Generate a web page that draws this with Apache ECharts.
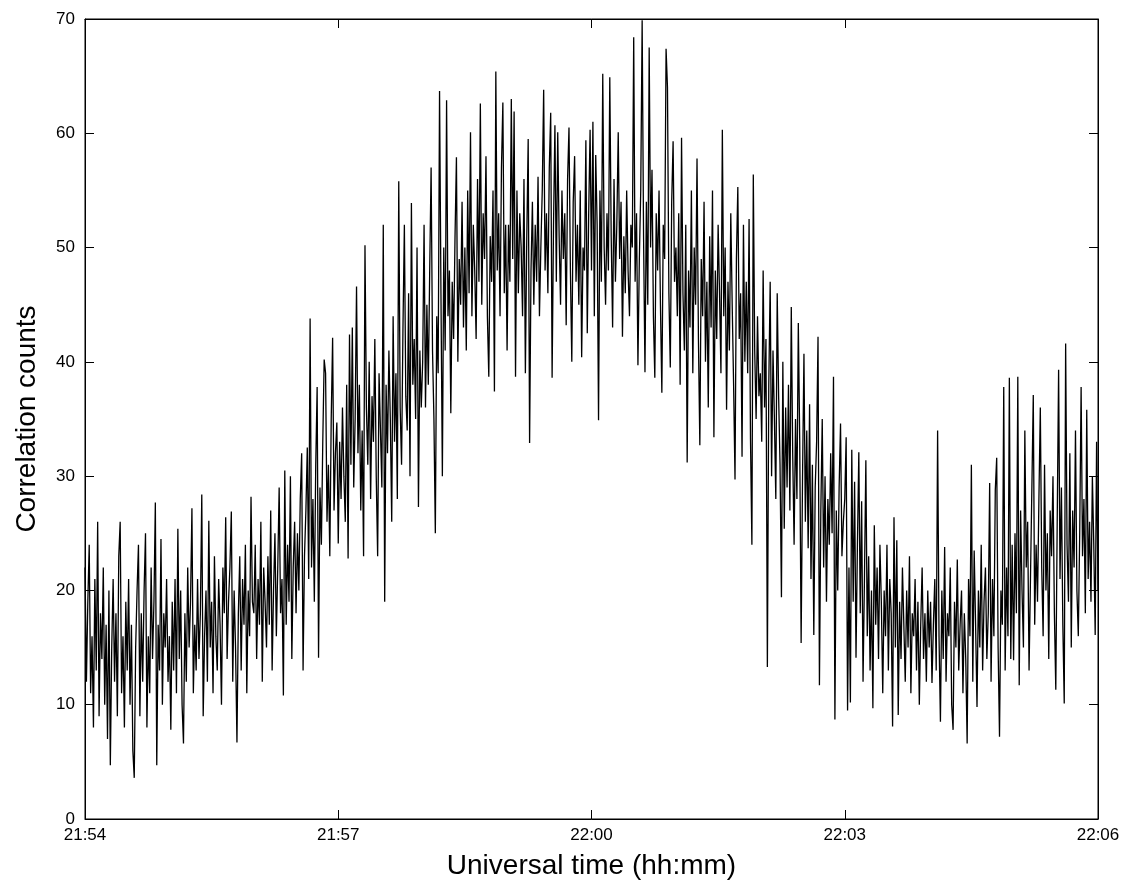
<!DOCTYPE html>
<html>
<head>
<meta charset="utf-8">
<script src="https://cdn.jsdelivr.net/npm/echarts@6/dist/echarts.min.js"></script>
<style>html,body{margin:0;padding:0;background:#fff}#c{width:1131px;height:889px}</style>
</head>
<body>
<div id="c"></div>
<script>
// One sample per second from 21:54:00 to 22:06:00
var tickLabels = ['21:54', '21:57', '22:00', '22:03', '22:06'];
var yTicks = [0, 10, 20, 30, 40, 50, 60, 70];

var counts = [
// 21:54
22,12,19,24,11,16,8,21,13,26,
9,18,14,22,10,17,7,20,4.7,15,
21,12,18,9,23,26,11,16,8,19,
13,21,10,17,6,3.6,15,20,24,9,
18,12,20,25,8,16,11,22,14,19,
27.7,4.7,17,13,24.5,10,18,15,21,12,
// 21:55
16,7.8,19,13,21,11,25.4,14,20,10,
6.6,18,12,22,15,19,27.2,11,17,13,
21,14,18,28.4,9,16,20,12,26.1,15,
19,11,23,16,13,21,17,10,22,18,
26.4,14,19,22,26.9,12,20,15,6.7,18,
23,13,21,17,24,11,20,16,28.2,19,
// 21:56
18,24,14,21,17,26,12,22,19,15,
23,17,27,13,20,25,16,22,29,18,
21,10.8,30.5,17,24,19,30,14,22,26,
18,25,20,28,32,13,23,27,32.5,21,
43.8,22,28,19,31,37.8,14.1,29,24,33,
40.2,39,26,31,23,35,42.1,27,32,34.7,
// 21:57
24.1,33,28,36,30,26,38,22.8,42.4,31,
43,29,35,46.6,32,38,27,34,23,50.2,
36,31,40,28,37,33,42,30,23,39,
34,29,52,19,38,32,41,35,26,44,
33,39,28,55.8,36,31,43,52,37,34,
46,30,53.9,38,42,35,50,27.3,41,36,
// 21:58
40,52,36,45,38,48,57,41,35,25,
44,39,63.7,46,30,50,41,62.9,44,48,
35.5,47,42,51,57.9,40,49,45,54,43,
50,41,55,46,60.1,44,52,48,42,56,
47,62.6,45,53,49,58,44,38.7,51,47,
55,37.4,65.4,48,53,44,57,62.7,46,52,
// 21:59
41,52,47,63,49,61.9,38.7,55,46,53,
50,44,56,39,51,59.5,32.9,48,54,45,
52,47,56.2,44,50,55,63.8,48,53,46,
57,61.8,38.6,52,60.7,47,60.1,51,45,55,
49,53,43.2,56,60.5,48,40,54,58,47,
52,45,55,40.4,50,48,59.4,42.5,53,60.3,
// 22:00
48,61,44,58.1,52,34.9,55,47,65.2,50,
45,53,48,64.9,51,43,56,47,52,60.1,
49,54,42.2,51,46,55,48,44,52,50,
68.4,47,53,39.7,49,55,69.9,51,39.1,54,
45,67.5,50,56.8,44,38.6,53,48,55,45,
37.3,52,49,67.4,64,46,39.5,54,59.3,47,
// 22:01
50,44,53,38,59.6,46,41,52,31.2,48,
43,55,39,50,45,57.8,42,32.7,49,44,
54,40,47,36,51,43,55,33.4,48,42,
52,46,39,60.3,44,50,35.8,47,41,53,
45,38,29.7,49,55.3,42,46,31.7,52,40,
47,39,52.5,33.3,24,56.4,41,35,44,37,
// 22:02
39,33,48,36,42,13.3,38,47,30,41,
35,28,46,37,31,19.4,40,25.4,36,29,
38,27,44.8,32,24,35,28,43.4,33,15.4,
30,40.7,26,34,23.7,36.3,21,31,16.1,29,
33,42.2,11.7,27,35,22,30,19,28,24,
32,25,38.7,8.7,27,20,29,34.6,23,26,
// 22:03
28,33.4,9.5,22,10.2,32.3,19,29.5,14.1,24,
32.1,18,27.8,12,21,31.4,16,23,13,20,
9.7,25.7,17,22,14,24,19,11,20,16,
24,13,21,18,8.1,26.4,15,24.4,9.1,19,
14,22,17,12,20,15,23,11,18,16,
21,13,19,10,17,22,14,18,12,20,
// 22:04
15,19,11.9,17,21,13,34,16,8.5,20,
14,23.8,12,18,16,22,10,7.8,19,15,
22.7,13,17,20,11,18,14,6.6,21,16,
31,12,23.5,17,9.8,20,15,24,13,19,
22,14,18,29.4,12,21,16,28.8,31.6,15,
7.2,20,17,37.8,13,22,16,38.6,14,24,
// 22:05
13.9,25,18,38.7,11.7,27,20,15,34,22,
26,13,21,29,37.1,17,24,19,28,36,
22,16,31,20,25,14,27,23,30,18,
11.3,26,39.3,21,29,17,10.1,41.6,24,19,
32,15,27,22,34,20,16,25,37.8,23,
28,18,35.8,21,26,19,30,24,16.1,33,20
];

var seriesData = counts.map(function (v, i) { return [i, v]; });

function timeLabel(sec) {
  var idx = Math.round(sec / 180);
  return tickLabels[idx] !== undefined ? tickLabels[idx] : '';
}

var font = 'Liberation Sans, Arial, Helvetica, sans-serif';
var chart = echarts.init(document.getElementById('c'), null, {renderer: 'canvas'});
chart.setOption({
  animation: false,
  backgroundColor: '#fff',
  grid: {left: 85, top: 19, width: 1013, height: 800, show: true, borderColor: '#000', borderWidth: 1, backgroundColor: 'transparent'},
  xAxis: [{
    type: 'value', min: 0, max: 720, interval: 180, position: 'bottom',
    name: 'Universal time (hh:mm)', nameLocation: 'middle', nameGap: 33,
    nameTextStyle: {fontFamily: font, fontSize: 28, color: '#000'},
    axisLine: {show: true, onZero: false, lineStyle: {color: '#000', width: 1}},
    axisTick: {show: true, inside: true, length: 9, lineStyle: {color: '#000'}},
    axisLabel: {formatter: timeLabel, fontFamily: font, fontSize: 17, color: '#000', margin: 8},
    splitLine: {show: false}
  }, {
    type: 'value', min: 0, max: 720, interval: 180, position: 'top',
    axisLine: {show: true, onZero: false, lineStyle: {color: '#000', width: 1}},
    axisTick: {show: true, inside: true, length: 9, lineStyle: {color: '#000'}},
    axisLabel: {show: false}, splitLine: {show: false}
  }],
  yAxis: [{
    type: 'value', min: 0, max: 70, interval: 10, position: 'left',
    name: 'Correlation counts', nameLocation: 'middle', nameGap: 44,
    nameTextStyle: {fontFamily: font, fontSize: 28, color: '#000'},
    axisLine: {show: true, onZero: false, lineStyle: {color: '#000', width: 1}},
    axisTick: {show: true, inside: true, length: 9, lineStyle: {color: '#000'}},
    axisLabel: {fontFamily: font, fontSize: 17, color: '#000', margin: 10,
      formatter: function (v) { return yTicks.indexOf(v) >= 0 ? String(v) : ''; }},
    splitLine: {show: false}
  }, {
    type: 'value', min: 0, max: 70, interval: 10, position: 'right',
    axisLine: {show: true, onZero: false, lineStyle: {color: '#000', width: 1}},
    axisTick: {show: true, inside: true, length: 9, lineStyle: {color: '#000'}},
    axisLabel: {show: false}, splitLine: {show: false}
  }],
  series: [{
    type: 'line', xAxisIndex: 0, yAxisIndex: 0,
    data: seriesData, showSymbol: false, symbol: 'none', sampling: null,
    lineStyle: {color: '#000', width: 1.3}, silent: true
  }]
});
</script>
</body>
</html>
